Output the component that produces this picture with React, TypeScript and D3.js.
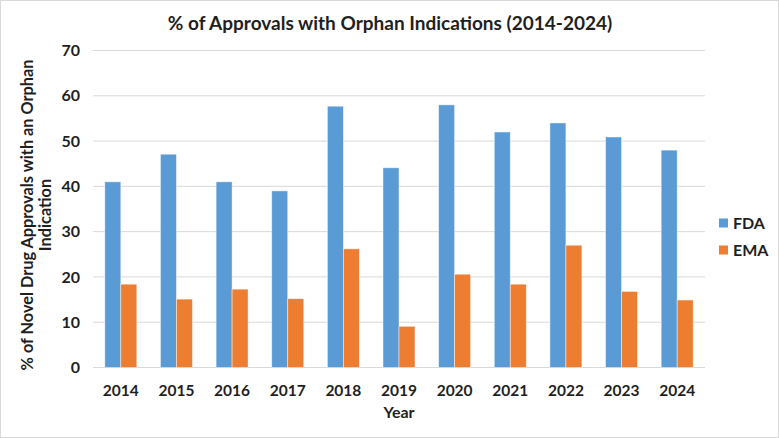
import { useRef, useEffect } from "react";
import * as d3 from "d3";

const years = ["2014", "2015", "2016", "2017", "2018", "2019", "2020", "2021", "2022", "2023", "2024"];
const fdaValues = [41, 47.1, 41, 39, 57.7, 44.1, 58, 52, 54, 50.9, 48];
const emaValues = [18.4, 15.1, 17.3, 15.2, 26.2, 9.1, 20.6, 18.4, 27, 16.8, 14.9];
const seriesNames = ["FDA", "EMA"];
const yTicks = [0, 10, 20, 30, 40, 50, 60, 70];

const colors = ["#5B9BD5", "#ED7D31"];
const font = "Lato, 'Open Sans', sans-serif";

const App = () => {
    const svgRef = useRef<SVGSVGElement>(null);

    useEffect(() => {
        document.body.style.margin = "0";
        if (!svgRef.current) return;

        const width = 779;
        const height = 438;
        const margin = { top: 50.5, right: 74, bottom: 70.5, left: 93 };

        const svg = d3.select(svgRef.current);
        svg.selectAll("*").remove();

        svg.append("rect")
            .attr("x", 0.5)
            .attr("y", 0.5)
            .attr("width", width - 1)
            .attr("height", height - 1)
            .attr("fill", "#fff")
            .attr("stroke", "#D9D9D9");

        const x = d3
            .scaleBand()
            .domain(years)
            .range([margin.left, width - margin.right])
            .paddingInner(0.425)
            .paddingOuter(0.2125);

        const inner = d3
            .scaleBand()
            .domain(seriesNames)
            .range([0, x.bandwidth()]);

        const y = d3
            .scaleLinear()
            .domain([0, 70])
            .range([height - margin.bottom, margin.top]);

        // gridlines
        svg.append("g")
            .selectAll("line")
            .data(yTicks)
            .join("line")
            .attr("x1", margin.left)
            .attr("x2", width - margin.right)
            .attr("y1", (d) => y(d))
            .attr("y2", (d) => y(d))
            .attr("stroke", "#D9D9D9")
            .attr("stroke-width", 1);

        const groups = svg
            .append("g")
            .selectAll("g")
            .data(years)
            .join("g")
            .attr("transform", (d) => `translate(${x(d)},0)`);

        groups
            .selectAll("rect")
            .data((_, i) => [
                { s: "FDA", v: fdaValues[i], c: colors[0] },
                { s: "EMA", v: emaValues[i], c: colors[1] },
            ])
            .join("rect")
            .attr("x", (d) => inner(d.s)!)
            .attr("y", (d) => y(d.v))
            .attr("width", inner.bandwidth())
            .attr("height", (d) => y(0) - y(d.v))
            .attr("fill", (d) => d.c)
            .attr("stroke", "#ffffff")
            .attr("stroke-opacity", 0.6)
            .attr("stroke-width", 0.75);

        // y axis labels
        svg.append("g")
            .selectAll("text")
            .data(yTicks)
            .join("text")
            .attr("x", 80)
            .attr("y", (d) => y(d))
            .attr("dy", "0.35em")
            .attr("text-anchor", "end")
            .attr("font-family", font)
            .attr("font-weight", "bold")
            .attr("font-size", 16)
            .attr("fill", "#1f1f1f")
            .text((d) => d);

        // x axis labels
        svg.append("g")
            .selectAll("text")
            .data(years)
            .join("text")
            .attr("x", (d) => x(d)! + x.bandwidth() / 2)
            .attr("y", 391)
            .attr("dy", "0.35em")
            .attr("text-anchor", "middle")
            .attr("font-family", font)
            .attr("font-weight", "bold")
            .attr("font-size", 15.5)
            .attr("fill", "#1f1f1f")
            .text((d) => d);

        svg.append("text")
            .attr("x", (margin.left + width - margin.right) / 2)
            .attr("y", 412)
            .attr("dy", "0.35em")
            .attr("text-anchor", "middle")
            .attr("font-family", font)
            .attr("font-weight", "bold")
            .attr("font-size", 16)
            .attr("fill", "#1f1f1f")
            .text("Year");

        const yTitle = svg
            .append("text")
            .attr("transform", "translate(36,215) rotate(-90)")
            .attr("text-anchor", "middle")
            .attr("font-family", font)
            .attr("font-weight", "bold")
            .attr("font-size", 16.3)
            .attr("fill", "#1f1f1f");
        yTitle.append("tspan").attr("x", 0).attr("y", -3).text("% of Novel Drug Approvals with an Orphan");
        yTitle.append("tspan").attr("x", 0).attr("y", 15).text("Indication");

        svg.append("text")
            .attr("x", 390)
            .attr("y", 23)
            .attr("dy", "0.35em")
            .attr("text-anchor", "middle")
            .attr("font-family", font)
            .attr("font-weight", "bold")
            .attr("font-size", 19)
            .attr("fill", "#1f1f1f")
            .text("% of Approvals with Orphan Indications (2014-2024)");

        // legend
        const legend = svg
            .append("g")
            .selectAll("g")
            .data(seriesNames)
            .join("g")
            .attr("transform", (_, i) => `translate(719,${223 + i * 27})`);
        legend
            .append("rect")
            .attr("x", 0)
            .attr("y", -4.5)
            .attr("width", 9)
            .attr("height", 9)
            .attr("fill", (_, i) => colors[i]);
        legend
            .append("text")
            .attr("x", 14)
            .attr("y", 0)
            .attr("dy", "0.35em")
            .attr("font-family", font)
            .attr("font-weight", "bold")
            .attr("font-size", 16)
            .attr("fill", "#1f1f1f")
            .text((d) => d);

        svg.attr("width", width).attr("height", height);
    }, []);

    return <svg ref={svgRef} style={{ display: "block" }} />;
};

export default App;
